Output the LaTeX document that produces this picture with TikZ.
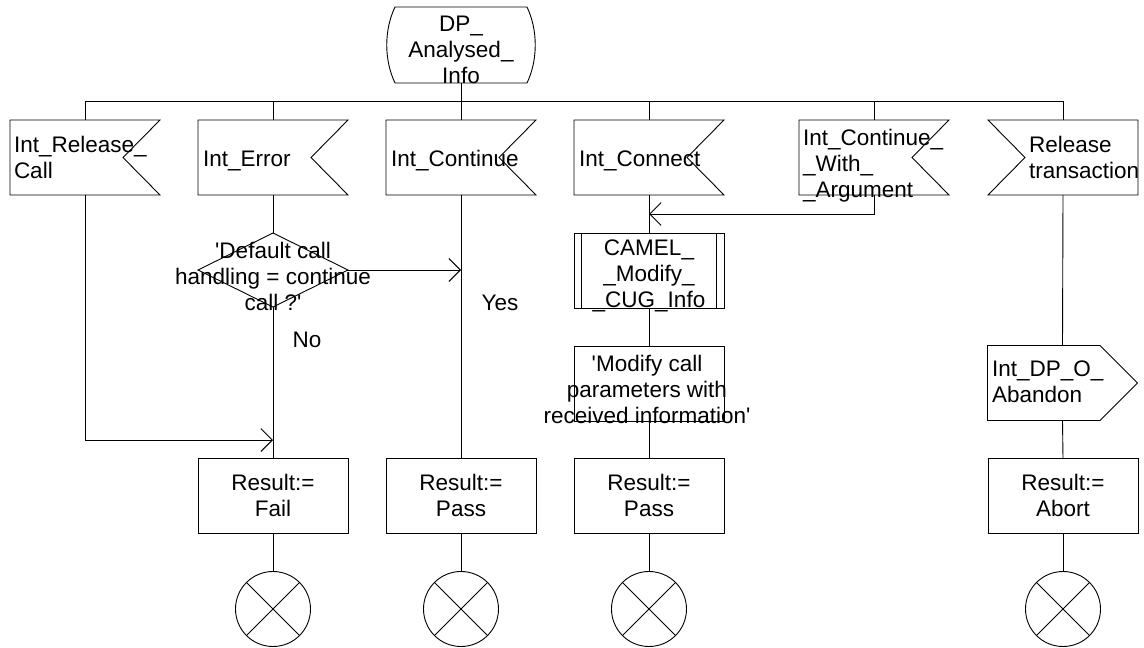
\documentclass[tikz,border=0pt]{standalone}
\usepackage{fontspec}
\setmainfont{Liberation Sans}
\usetikzlibrary{arrows.meta,calc}
\newcommand\sdlfont{\fontsize{22.5}{26}\selectfont}
\newcommand\sq{\textquotesingle}
\newcommand\sdlinput[1]{\draw (#1.north west) -- (#1.north east) -- ($(#1.east)+(-37,0)$) -- (#1.south east) -- (#1.south west) -- cycle;}
\begin{document}
\begin{tikzpicture}[x=1pt,y=-1pt, line width=0.9pt,
  geo/.style={rectangle, inner sep=0pt, outer sep=0pt, minimum width=150pt, minimum height=75pt},
  boxed/.style={geo, draw},
  txt/.style={inner sep=0pt, outer sep=0pt, font=\sdlfont},
  txtl/.style={txt, align=left, anchor=west},
  txtc/.style={txt, align=center},
  arr/.style={-{Straight Barb[length=11.5pt,width=23pt]}},
  term/.style={circle, draw, inner sep=0pt, minimum size=75pt}]
\useasboundingbox (0,0) rectangle (1144,648);

% start state
\node[geo, minimum width=148pt, minimum height=76pt] (start) at (461,45) {};
\draw ($(start.north west)+(8,0)$) -- ($(start.north east)+(-8,0)$)
  .. controls ($(start.north east)+(3,23)$) and ($(start.south east)+(3,-23)$) .. ($(start.south east)+(-8,0)$)
  -- ($(start.south west)+(8,0)$)
  .. controls ($(start.south west)+(-3,-23)$) and ($(start.north west)+(-3,23)$) .. ($(start.north west)+(8,0)$) -- cycle;
\node[txtc] (startT) at (461,50) {DP\_\\Analysed\_\\Info};

% inputs
\node[geo] (in1) at (85,157.5) {};
\node[geo] (in2) at (273,157.5) {};
\node[geo] (in3) at (461,157.5) {};
\node[geo] (in4) at (649,157.5) {};
\node[geo] (in5) at (874,157.5) {};
\node[geo] (rt) at (1063,157.5) {};
\sdlinput{in1}\sdlinput{in2}\sdlinput{in3}\sdlinput{in4}\sdlinput{in5}
\draw (rt.north west) -- (rt.north east) -- (rt.south east) -- (rt.south west) -- ($(rt.west)+(37,0)$) -- cycle;
\node[txtl] (in1T) at (14,157.5) {Int\_Release\_\\Call};
\node[txtl] (in2T) at (203,161) {Int\_Error};
\node[txtl] (in3T) at (391,161) {Int\_Continue};
\node[txtl] (in4T) at (579,161) {Int\_Connect};
\node[txtl] (in5T) at (803,166) {Int\_Continue\_\\\_With\_\\\_Argument};
\node[txtl] (rtT) at (1029,157.5) {Release\\transaction};

% decision
\node[geo, minimum height=74pt] (dec) at (273,270) {};
\draw (dec.north) -- (dec.east) -- (dec.south) -- (dec.west) -- cycle;
\node[txtc] (decT) at (273,276) {\sq Default call\\handling = continue\\call ?\sq};
\node[txtc] (yes) at (500,303) {Yes};
\node[txtc] (no) at (307,340) {No};

% procedure and task
\node[boxed] (camel) at (649,270.5) {};
\draw ($(camel.north west)+(7.5,0)$) -- ($(camel.south west)+(7.5,0)$);
\draw ($(camel.north east)+(-7.5,0)$) -- ($(camel.south east)+(-7.5,0)$);
\node[txtc] (camelT) at (649,276) {CAMEL\_\\\_Modify\_\\\_CUG\_Info};
\node[boxed] (task) at (649,383.5) {};
\node[txtc] (taskT) at (647,389) {\sq Modify call\\parameters with\\received information\sq};

% output
\node[geo] (ab) at (1062.5,383) {};
\draw (ab.north west) -- ($(ab.north east)+(-37.5,0)$) -- (ab.east) -- ($(ab.south east)+(-37.5,0)$) -- (ab.south west) -- cycle;
\node[txtl] (abT) at (992,382) {Int\_DP\_O\_\\Abandon};

% results
\node[boxed] (fail) at (273,495.5) {};
\node[boxed] (pass1) at (461,495.5) {};
\node[boxed] (pass2) at (649,495.5) {};
\node[boxed] (abort) at (1063,495.5) {};
\node[txtc] (failT) at (273,495) {Result:=\\Fail};
\node[txtc] (pass1T) at (461,495) {Result:=\\Pass};
\node[txtc] (pass2T) at (649,495) {Result:=\\Pass};
\node[txtc] (abortT) at (1063,495) {Result:=\\Abort};

% terminators
\node[term] (c1) at (273,609) {};
\node[term] (c2) at (461,609) {};
\node[term] (c3) at (649,609) {};
\node[term] (c4) at (1063,609) {};
\foreach \c in {c1,c2,c3,c4} {\draw (\c.north west) -- (\c.south east); \draw (\c.north east) -- (\c.south west);}

% connectors
\coordinate (busL) at (85,101);
\coordinate (busR) at (1063,101);
\draw (busL) -- (busR);
\draw (start.south) -- (start.south |- busL);
\foreach \n in {in1,in2,in3,in4,in5,rt} \draw (\n.north |- busL) -- (\n.north);
\coordinate (m1) at (273,440);
\draw[arr] (in1.south) |- (m1);
\draw (in2.south) -- (dec.north);
\draw (dec.south) -- (fail.north);
\coordinate (m2) at (461,270);
\draw[arr] (dec.east) -- (m2);
\draw (in3.south) -- (pass1.north);
\draw (in4.south) -- (camel.north);
\coordinate (m3) at (649,214);
\draw[arr] (in5.south) |- (m3);
\draw (camel.south) -- (task.north);
\draw (task.south) -- (pass2.north);
\draw (rt.south) -- (ab.north);
\draw (ab.south) -- (abort.north);
\foreach \b/\c in {fail/c1,pass1/c2,pass2/c3,abort/c4} \draw (\b.south) -- (\c.north);
\end{tikzpicture}
\end{document}
